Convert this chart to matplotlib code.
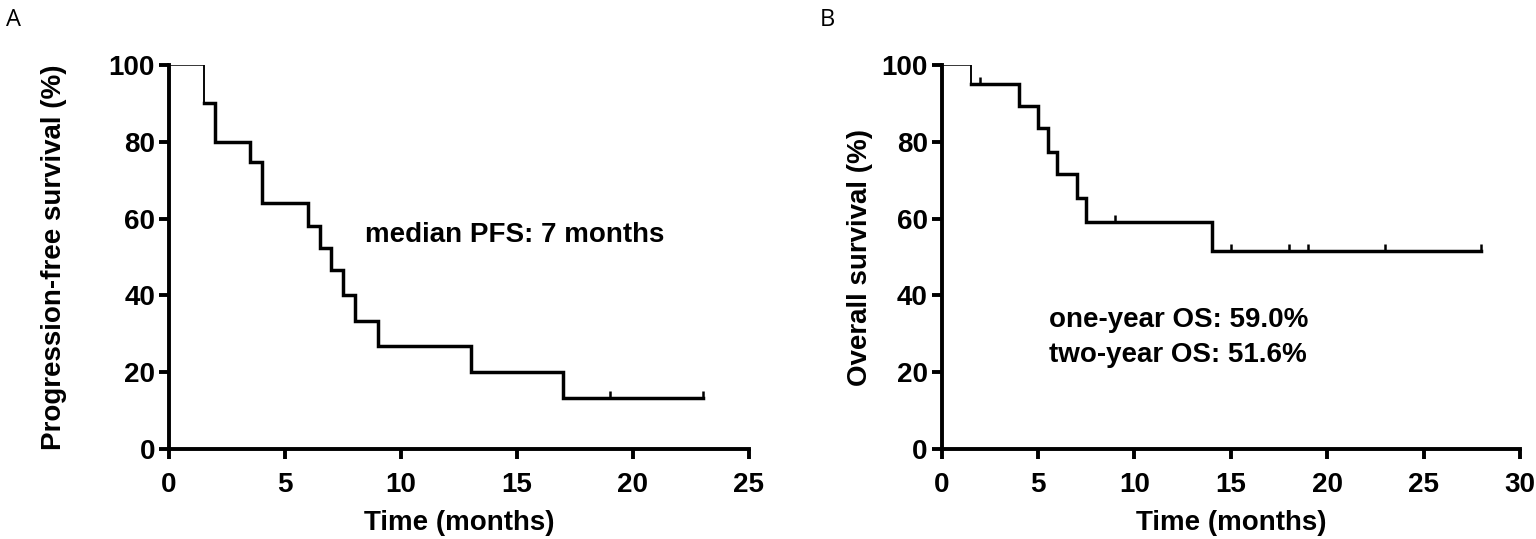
import numpy as np
import matplotlib
matplotlib.use("Agg")
import matplotlib.pyplot as plt

# Kaplan-Meier values
pfs_time = [0, 1.5, 2, 3.5, 4, 6, 6.5, 7, 7.5, 8, 9, 13, 17, 23]
pfs_surv = [100, 90, 80, 74.7, 64.0, 58.2, 52.4, 46.6, 40.0, 33.3, 26.7, 20.0, 13.3, 13.3]
pfs_censor = [19, 23]

os_time = [0, 1.5, 4, 5, 5.5, 6, 7, 7.5, 14, 28]
os_surv = [100, 95.0, 89.4, 83.5, 77.4, 71.6, 65.4, 59.0, 51.6, 51.6]
os_censor = [2, 9, 15, 18, 19, 23, 28]

pfs_xticks = [0, 5, 10, 15, 20, 25]
os_xticks = [0, 5, 10, 15, 20, 25, 30]
yticks = [0, 20, 40, 60, 80, 100]

plt.rcParams['font.family'] = ['Liberation Sans', 'DejaVu Sans']
plt.rcParams['font.weight'] = 'bold'

fig = plt.figure(figsize=(15.36, 5.39), dpi=100)
axA = fig.add_axes([169 / 1536, 1 - 449 / 539, 580 / 1536, 384 / 539])
axB = fig.add_axes([941.7 / 1536, 1 - 449 / 539, 578.3 / 1536, 384 / 539])

FS = 20


def surv_at(times, surv, t):
    i = np.searchsorted(times, t, side='right') - 1
    return surv[i]


def km_plot(ax, times, surv, censor, xmax, xticks, ylabel, ypad):
    # first step is drawn thin, the rest thick (as in the original)
    ax.step(times[:2], surv[:2], where='post', color='black', lw=1.1)
    ax.plot([times[1], times[1]], [surv[0], surv[1]], color='black', lw=1.1)
    ax.step(times[1:], surv[1:], where='post', color='black', lw=2.5,
            solid_joinstyle='miter')
    cy = [surv_at(times, surv, t) for t in censor]
    ax.plot(censor, cy, linestyle='none', marker=2, markersize=5,
            markeredgewidth=1.8, color='black')

    ax.set_xlim(0, xmax)
    ax.set_ylim(0, 100)
    ax.set_xticks(xticks)
    ax.set_yticks(yticks)
    for side in ['top', 'right']:
        ax.spines[side].set_visible(False)
    for side in ['left', 'bottom']:
        ax.spines[side].set_linewidth(2.8)
    ax.tick_params(width=2.8, length=7, labelsize=FS)
    ax.tick_params(axis='x', pad=9.5)
    ax.tick_params(axis='y', pad=3)
    for lab in ax.get_xticklabels() + ax.get_yticklabels():
        lab.set_fontweight('bold')
    ax.set_xlabel('Time (months)', fontsize=FS, fontweight='bold', labelpad=9)
    ax.set_ylabel(ylabel, fontsize=FS, fontweight='bold', labelpad=ypad)
    for s in ax.spines.values():
        s.set_clip_on(False)


km_plot(axA, pfs_time, pfs_surv, pfs_censor, 25, pfs_xticks,
        'Progression-free survival (%)', 30)
km_plot(axB, os_time, os_surv, os_censor, 30, os_xticks,
        'Overall survival (%)', 6)

axA.text(8.45, 55.6, 'median PFS: 7 months', fontsize=FS, fontweight='bold',
         va='center', ha='left')
axB.text(5.57, 33.6, 'one-year OS: 59.0%', fontsize=FS, fontweight='bold',
         va='center', ha='left')
axB.text(5.57, 24.6, 'two-year OS: 51.6%', fontsize=FS, fontweight='bold',
         va='center', ha='left')

fig.text(6 / 1536, 1 - 20 / 539, 'A', fontsize=17, fontweight='normal',
         family='Open Sans', va='center', ha='left')
fig.text(820 / 1536, 1 - 20 / 539, 'B', fontsize=17, fontweight='normal',
         family='Open Sans', va='center', ha='left')

fig.savefig('out.png', dpi=100)
